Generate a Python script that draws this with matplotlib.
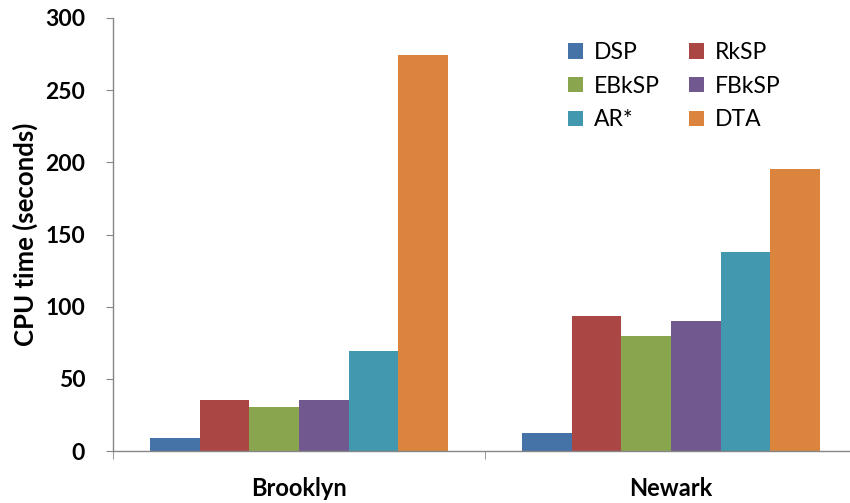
import matplotlib.pyplot as plt
import numpy as np

cities = ['Brooklyn', 'Newark']
methods = ['DSP', 'RkSP', 'EBkSP', 'FBkSP', 'AR*', 'DTA']
cpu_time = {
    'DSP':   [9.2, 12.2],
    'RkSP':  [35.3, 93.8],
    'EBkSP': [30.7, 79.9],
    'FBkSP': [35.3, 90.1],
    'AR*':   [69.5, 138.1],
    'DTA':   [274.2, 195.2],
}
colors = ['#4572A7', '#AA4643', '#89A54E', '#71588F', '#4198AF', '#DB843D']

plt.rcParams['font.family'] = ['Lato', 'DejaVu Sans']

fig = plt.figure(figsize=(8.5, 5.03), dpi=100)
ax = fig.add_axes([113 / 850, 1 - 451 / 503, 1 - 113 / 850, 433 / 503])

x = np.arange(len(cities))
w = 0.8 / len(methods)
handles = {}
for i, (m, c) in enumerate(zip(methods, colors)):
    b = ax.bar(x - 0.4 + w * (i + 0.5), cpu_time[m], width=w, color=c, label=m)
    handles[m] = b

ax.set_xlim(-0.5, 1.5 - 7 / 372)
ax.set_ylim(0, 300)
ax.set_yticks(range(0, 301, 50))
ax.set_xticks(x)
ax.set_xticklabels(cities, fontsize=17, fontweight='bold')
ax.set_xticks([-0.5, 0.5], minor=True)
ax.tick_params(axis='x', which='major', length=0, pad=19)
ax.tick_params(axis='x', which='minor', length=6, color='#868686')
ax.tick_params(axis='y', length=5, color='#868686', labelsize=16.5, pad=15)
for lab in ax.get_yticklabels():
    lab.set_fontweight('bold')

for s in ['top', 'right']:
    ax.spines[s].set_visible(False)
for s in ['left', 'bottom']:
    ax.spines[s].set_color('#868686')
    ax.spines[s].set_linewidth(1.0)

ax.set_ylabel('CPU time (seconds)', fontsize=18.5, fontweight='bold', labelpad=5)

order = ['DSP', 'EBkSP', 'AR*', 'RkSP', 'FBkSP', 'DTA']
ax.legend([handles[m] for m in order], order, ncol=2, frameon=False,
          fontsize=16.5, loc='upper left', bbox_to_anchor=(0.59, 0.992),
          handlelength=0.65, handleheight=0.65, handletextpad=0.45,
          columnspacing=1.3, labelspacing=0.55)

fig.savefig('out.png', dpi=100)
